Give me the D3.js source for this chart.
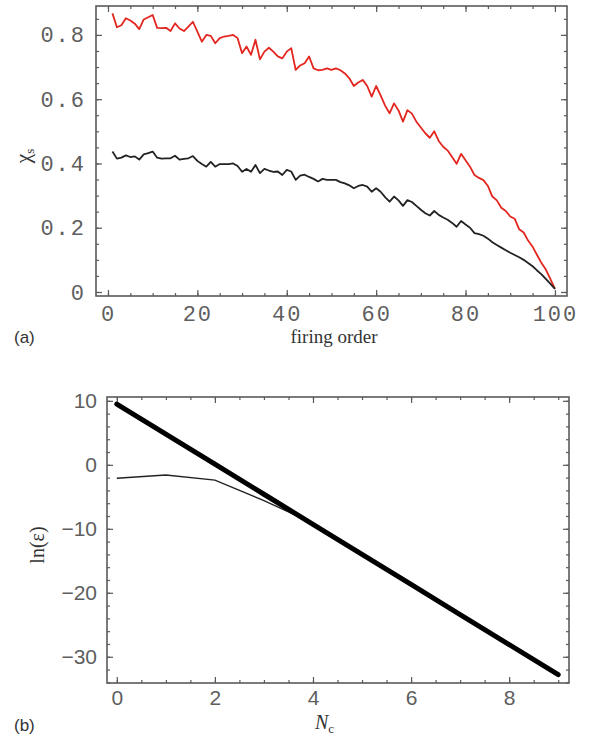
<!DOCTYPE html>
<html lang="en">
<head>
<meta charset="UTF-8">
<title>chi_s vs firing order / ln(eps) vs Nc</title>
<script src="https://cdnjs.cloudflare.com/ajax/libs/d3/7.8.5/d3.min.js"></script>
<style>
    body { margin: 0; background: #fff; }
    .frame { fill: none; stroke: #5a5a5a; stroke-width: 1.6px; }
    .tick line { stroke: #5a5a5a; stroke-width: 1.2px; }
    .domain { display: none; }
    .mono text { font-family: "Liberation Mono", "DejaVu Sans Mono", monospace; font-size: 22px; fill: #5e5e5e; letter-spacing: 2px; }
    .sans text { font-family: "Liberation Sans", Arial, sans-serif; font-size: 21px; fill: #5e5e5e; }
    .title { font-family: "Liberation Serif", "Times New Roman", serif; fill: #333; }
    .tag { font-family: "Liberation Sans", Arial, sans-serif; font-size: 17px; fill: #333; }
</style>
</head>
<body>
<div id="chart"></div>
<script>
// panel (a): chi_s against firing order
const firingOrder = d3.range(1, 101);
const chiRed = [
  0.867, 0.824, 0.830, 0.852, 0.845, 0.835, 0.818, 0.848, 0.855, 0.862,
  0.822, 0.821, 0.822, 0.812, 0.836, 0.820, 0.812, 0.826, 0.841, 0.810,
  0.779, 0.800, 0.797, 0.774, 0.790, 0.795, 0.797, 0.800, 0.790, 0.743,
  0.764, 0.738, 0.785, 0.724, 0.748, 0.760, 0.748, 0.733, 0.727, 0.748,
  0.759, 0.691, 0.705, 0.712, 0.733, 0.696, 0.690, 0.691, 0.696, 0.691,
  0.696, 0.690, 0.680, 0.665, 0.641, 0.652, 0.660, 0.641, 0.608, 0.641,
  0.612, 0.580, 0.556, 0.587, 0.565, 0.530, 0.566, 0.555, 0.530, 0.512,
  0.494, 0.480, 0.500, 0.470, 0.452, 0.440, 0.420, 0.399, 0.430, 0.410,
  0.390, 0.364, 0.355, 0.348, 0.330, 0.297, 0.285, 0.262, 0.252, 0.235,
  0.228, 0.195, 0.185, 0.160, 0.141, 0.115, 0.090, 0.069, 0.040, 0.010
];
const chiBlack = [
  0.437, 0.415, 0.418, 0.425, 0.420, 0.422, 0.412, 0.428, 0.432, 0.437,
  0.418, 0.415, 0.416, 0.416, 0.424, 0.412, 0.414, 0.416, 0.423, 0.408,
  0.398, 0.390, 0.405, 0.390, 0.398, 0.398, 0.398, 0.400, 0.392, 0.374,
  0.383, 0.374, 0.395, 0.370, 0.383, 0.378, 0.374, 0.375, 0.364, 0.380,
  0.375, 0.349, 0.362, 0.365, 0.358, 0.352, 0.344, 0.352, 0.349, 0.349,
  0.349, 0.342, 0.338, 0.332, 0.323, 0.330, 0.333, 0.328, 0.312, 0.323,
  0.312, 0.295, 0.281, 0.297, 0.285, 0.268, 0.286, 0.280, 0.268, 0.256,
  0.245, 0.238, 0.252, 0.240, 0.232, 0.225, 0.215, 0.203, 0.221, 0.210,
  0.200, 0.183, 0.180, 0.175, 0.166, 0.155, 0.146, 0.138, 0.130, 0.122,
  0.115, 0.108, 0.100, 0.090, 0.080, 0.067, 0.055, 0.040, 0.025, 0.010
];
const aXTicks = [0, 20, 40, 60, 80, 100];
const aYTicks = [0, 0.2, 0.4, 0.6, 0.8];

// panel (b): ln(eps) against Nc
const nc = [0, 1, 2, 3, 4, 5, 6, 7, 8, 9];
const lnEpsFit = [9.5, 4.8, 0.1, -4.6, -9.3, -14.0, -18.7, -23.4, -28.1, -32.8];
const lnEpsCalc = [-2.1, -1.6, -2.4, -5.6, -9.1, -14.0, -18.7, -23.4, -28.1, -32.8];
const bXTicks = [0, 2, 4, 6, 8];
const bYTicks = [-30, -20, -10, 0, 10];

const width = 592, height = 739;
const svg = d3.select("#chart").append("svg")
    .attr("width", width)
    .attr("height", height);

// Mathematica style frame: inward ticks on all four sides, labels left and bottom
function frame(x, y, xMajor, yMajor, xMinorStep, yMinorStep, cls, fmtX, fmtY, padX) {
    const [x0, x1] = x.range(), [y0, y1] = y.range();
    const xd = x.domain(), yd = y.domain();
    const xMinor = d3.range(Math.ceil(xd[0] / xMinorStep) * xMinorStep, xd[1], xMinorStep);
    const yMinor = d3.range(Math.ceil(yd[0] / yMinorStep) * yMinorStep, yd[1], yMinorStep);

    const g = svg.append("g").attr("class", cls);

    // minor ticks
    g.append("g").attr("transform", `translate(0,${y0})`)
        .call(d3.axisBottom(x).tickValues(xMinor).tickSize(-3).tickFormat(""));
    g.append("g").attr("transform", `translate(0,${y1})`)
        .call(d3.axisTop(x).tickValues(xMinor).tickSize(-3).tickFormat(""));
    g.append("g").attr("transform", `translate(${x0},0)`)
        .call(d3.axisLeft(y).tickValues(yMinor).tickSize(-3).tickFormat(""));
    g.append("g").attr("transform", `translate(${x1},0)`)
        .call(d3.axisRight(y).tickValues(yMinor).tickSize(-3).tickFormat(""));

    // major ticks
    g.append("g").attr("transform", `translate(0,${y0})`)
        .call(d3.axisBottom(x).tickValues(xMajor).tickSize(-6).tickPadding(padX).tickFormat(fmtX));
    g.append("g").attr("transform", `translate(0,${y1})`)
        .call(d3.axisTop(x).tickValues(xMajor).tickSize(-6).tickFormat(""));
    g.append("g").attr("transform", `translate(${x0},0)`)
        .call(d3.axisLeft(y).tickValues(yMajor).tickSize(-6).tickPadding(10).tickFormat(fmtY));
    g.append("g").attr("transform", `translate(${x1},0)`)
        .call(d3.axisRight(y).tickValues(yMajor).tickSize(-6).tickFormat(""));

    g.append("rect").attr("class", "frame")
        .attr("x", x0).attr("y", y1)
        .attr("width", x1 - x0).attr("height", y0 - y1);
    return g;
}

// ---- panel (a)
const xA = d3.scaleLinear().domain([-2.68, 102.7]).range([96, 567]);
const yA = d3.scaleLinear().domain([-0.0125, 0.890]).range([296, 6]);

frame(xA, yA, aXTicks, aYTicks, 5, 0.05, "mono",
    d => d, d => d === 0 ? "0" : d3.format(".1f")(d), 9);

const lineA = d3.line().x((d, i) => xA(firingOrder[i])).y(d => yA(d));
svg.append("path").datum(chiRed)
    .attr("d", lineA).attr("fill", "none")
    .attr("stroke", "#e3261f").attr("stroke-width", 1.8).attr("stroke-linejoin", "round");
svg.append("path").datum(chiBlack)
    .attr("d", lineA).attr("fill", "none")
    .attr("stroke", "#222").attr("stroke-width", 1.8).attr("stroke-linejoin", "round");

svg.append("text").attr("class", "title")
    .attr("transform", "translate(30,156) rotate(-90)")
    .attr("text-anchor", "middle").attr("font-size", 22)
    .html('χ<tspan font-size="13" dy="4">s</tspan>');
svg.append("text").attr("class", "title")
    .attr("x", 334).attr("y", 343).attr("text-anchor", "middle").attr("font-size", 19)
    .text("firing order");
svg.append("text").attr("class", "tag").attr("x", 14).attr("y", 343).text("(a)");

// ---- panel (b)
const xB = d3.scaleLinear().domain([-0.2, 9.22]).range([107, 569]);
const yB = d3.scaleLinear().domain([-34.1, 10.6]).range([683, 397]);

frame(xB, yB, bXTicks, bYTicks, 0.5, 2, "sans",
    d => d, d => d < 0 ? "\u2212" + Math.abs(d) : d, 7);

const lineB = d3.line().x((d, i) => xB(nc[i])).y(d => yB(d));
svg.append("path").datum(lnEpsCalc)
    .attr("d", lineB).attr("fill", "none")
    .attr("stroke", "#222").attr("stroke-width", 1.4);
svg.append("path").datum(lnEpsFit)
    .attr("d", lineB).attr("fill", "none")
    .attr("stroke", "#000").attr("stroke-width", 5).attr("stroke-linecap", "round");

svg.append("text").attr("class", "title")
    .attr("transform", "translate(44,545) rotate(-90)")
    .attr("text-anchor", "middle").attr("font-size", 20)
    .text("ln(ε)");
svg.append("text").attr("class", "title")
    .attr("x", 315).attr("y", 729).attr("font-size", 20).attr("font-style", "italic")
    .html('N<tspan font-size="13" dy="4" font-style="normal">c</tspan>');
svg.append("text").attr("class", "tag").attr("x", 14).attr("y", 731).text("(b)");
</script>
</body>
</html>
